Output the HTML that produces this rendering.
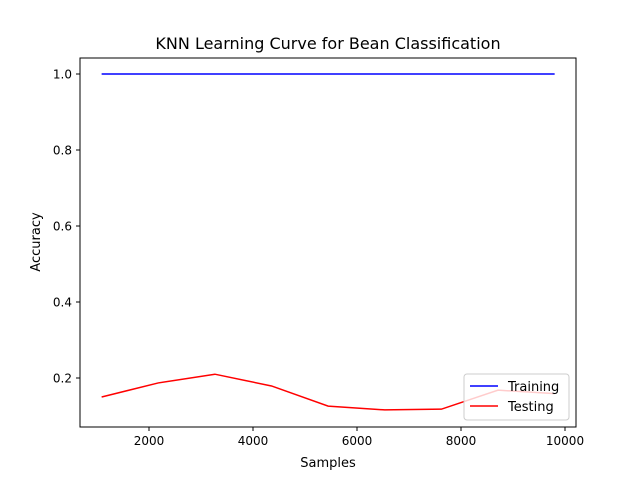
<!DOCTYPE html>
<html><head><meta charset="utf-8"><style>
body{margin:0;background:#fff;}
svg text{font-family:"DejaVu Sans","Liberation Sans",sans-serif;}
</style></head><body>
<svg id="chart" width="640" height="480" xmlns="http://www.w3.org/2000/svg">
<rect width="640" height="480" fill="#fff"/>
<text x="328" y="49" font-size="16" text-anchor="middle">KNN Learning Curve for Bean Classification</text>
<g id="plot"></g>
<rect x="80" y="58" width="496" height="369" fill="none" stroke="#000" stroke-width="1"/>
<text x="328" y="467" font-size="13" text-anchor="middle">Samples</text>
<text x="40" y="242" font-size="13" text-anchor="middle" transform="rotate(-90 40 242)">Accuracy</text>
<g>
<rect x="464" y="374" width="105" height="46" rx="3" fill="#fff" fill-opacity="0.8" stroke="#ccc"/>
<line x1="470" y1="386" x2="498" y2="386" stroke="blue" stroke-width="1.5"/>
<text x="508" y="391" font-size="13">Training</text>
<line x1="470" y1="406" x2="498" y2="406" stroke="red" stroke-width="1.5"/>
<text x="508" y="411" font-size="13">Testing</text>
</g>
</svg>
<script>
const samples=[1089,2178,3267,4356,5445,6534,7623,8712,9801];
const training=[1,1,1,1,1,1,1,1,1];
const testing=[0.150,0.187,0.210,0.179,0.126,0.116,0.118,0.168,0.159];
const xTicks=[2000,4000,6000,8000,10000];
const yTicks=[0.2,0.4,0.6,0.8,1.0];
const xs=v=>45+v*104/2000;
const ys=v=>454-v*380;
const NS="http://www.w3.org/2000/svg";
const g=document.getElementById('plot');
function mk(t,a){const e=document.createElementNS(NS,t);for(const k in a)e.setAttribute(k,a[k]);g.appendChild(e);return e;}
xTicks.forEach(t=>{
 const l=mk('line',{x1:xs(t),x2:xs(t),y1:427,y2:431,stroke:'#000'});
 
 
 const tx=mk('text',{x:xs(t),y:445,'font-size':12,'text-anchor':'middle'});tx.textContent=t;
 
 
});
yTicks.forEach(t=>{
 const l=mk('line',{x1:76,x2:80,y1:ys(t),y2:ys(t),stroke:'#000'});
 
 
 const tx=mk('text',{x:72,y:ys(t)+4.5,'font-size':12,'text-anchor':'end'});tx.textContent=t.toFixed(1);
 
 
});
function line(vals,color,name){
 const p=mk('polyline',{points:samples.map((s,i)=>xs(s)+','+ys(vals[i])).join(' '),fill:'none',stroke:color,'stroke-width':1.5});
 
 
}
line(training,'blue','training-line');
line(testing,'red','testing-line');
</script>
</body></html>
